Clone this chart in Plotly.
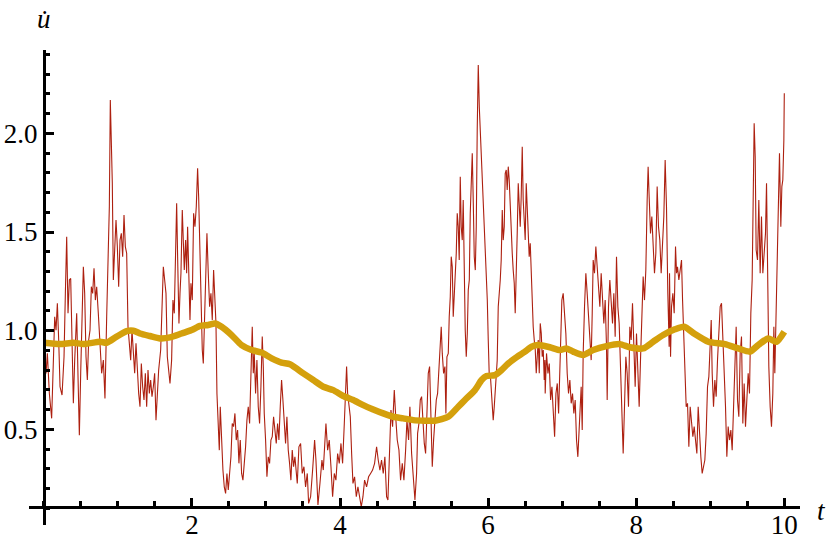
import plotly.graph_objects as go

# noisy sample path u'(t)
noisy_t = [
    0.000, 0.030, 0.048, 0.075, 0.106, 0.129, 0.147, 0.165, 0.183, 0.201,
    0.219, 0.246, 0.273, 0.291, 0.309, 0.327, 0.345, 0.363, 0.381, 0.399,
    0.417, 0.444, 0.462, 0.480, 0.498, 0.516, 0.534, 0.552, 0.570, 0.588,
    0.606, 0.624, 0.642, 0.660, 0.678, 0.696, 0.714, 0.736, 0.759, 0.781,
    0.804, 0.826, 0.849, 0.871, 0.885, 0.898, 0.912, 0.925, 0.939, 0.957,
    0.975, 0.993, 1.011, 1.029, 1.047, 1.065, 1.083, 1.101, 1.119, 1.137,
    1.155, 1.173, 1.191, 1.209, 1.227, 1.245, 1.263, 1.281, 1.299, 1.317,
    1.335, 1.353, 1.371, 1.389, 1.407, 1.425, 1.443, 1.461, 1.479, 1.497,
    1.515, 1.533, 1.551, 1.578, 1.596, 1.614, 1.632, 1.650, 1.668, 1.686,
    1.704,
    1.726, 1.744, 1.762, 1.780, 1.794, 1.807, 1.825, 1.839, 1.852, 1.870,
    1.884, 1.897, 1.915, 1.929, 1.942, 1.960, 1.974, 1.987, 2.005, 2.023,
    2.041, 2.059, 2.077, 2.091, 2.104, 2.122, 2.140, 2.154, 2.167, 2.185,
    2.203, 2.221, 2.239, 2.257, 2.275, 2.293, 2.311, 2.325, 2.338, 2.356,
    2.370, 2.383, 2.401, 2.419, 2.437, 2.455, 2.473, 2.491, 2.509, 2.527,
    2.545, 2.563, 2.581, 2.599, 2.617, 2.635, 2.653, 2.671, 2.689, 2.707,
    2.725, 2.743, 2.761, 2.779, 2.797, 2.815, 2.829, 2.842, 2.860, 2.878,
    2.896, 2.914, 2.932, 2.950, 2.964, 2.977, 2.995, 3.013, 3.031, 3.049,
    3.067, 3.085, 3.103, 3.121, 3.139, 3.157, 3.175, 3.193, 3.211, 3.229,
    3.247, 3.265, 3.283, 3.301, 3.319, 3.337, 3.355, 3.373, 3.391,
    3.396, 3.423, 3.445, 3.468, 3.490, 3.513, 3.535, 3.558, 3.576, 3.603,
    3.630, 3.657, 3.675, 3.702, 3.729, 3.756, 3.774, 3.792, 3.810, 3.833,
    3.855, 3.878, 3.900, 3.923, 3.945, 3.968, 3.990, 4.013, 4.035, 4.058,
    4.076, 4.089, 4.103, 4.121, 4.139, 4.157, 4.175, 4.197, 4.220, 4.242,
    4.265, 4.287, 4.310, 4.332, 4.359, 4.386, 4.413, 4.440, 4.467, 4.494,
    4.516, 4.539, 4.561, 4.584, 4.606, 4.629, 4.647, 4.665, 4.688, 4.710,
    4.733, 4.755, 4.773, 4.796, 4.818, 4.841, 4.863, 4.886, 4.904, 4.926,
    4.944, 4.967, 4.989, 5.012, 5.034,
    5.048, 5.066, 5.084, 5.102, 5.120, 5.138, 5.156, 5.174, 5.192, 5.210,
    5.228, 5.246, 5.264, 5.282, 5.300, 5.318, 5.336, 5.354, 5.367, 5.381,
    5.399, 5.417, 5.430, 5.444, 5.462, 5.475, 5.489, 5.502, 5.516, 5.529,
    5.543, 5.556, 5.570, 5.583, 5.597, 5.610, 5.624, 5.637, 5.651, 5.664,
    5.678, 5.691, 5.705, 5.719, 5.732, 5.746, 5.759, 5.773, 5.786, 5.800,
    5.813, 5.827, 5.840, 5.853, 5.867, 5.881, 5.894, 5.908, 5.921, 5.935,
    5.948, 5.962, 5.975, 5.989, 6.002, 6.016, 6.029, 6.043, 6.056, 6.069,
    6.083, 6.096, 6.110, 6.123, 6.137, 6.150, 6.164, 6.177, 6.191, 6.204,
    6.218, 6.231, 6.245, 6.258, 6.272, 6.285, 6.299, 6.312, 6.326, 6.339,
    6.353, 6.366, 6.380, 6.393, 6.407, 6.420, 6.434, 6.447, 6.461, 6.474,
    6.488, 6.501, 6.515, 6.528, 6.542, 6.555, 6.569, 6.582, 6.596, 6.609,
    6.623, 6.637, 6.650, 6.664, 6.677, 6.691, 6.704, 6.718, 6.731, 6.745,
    6.758, 6.767,
    6.771, 6.789, 6.808, 6.826, 6.844, 6.862, 6.880, 6.898, 6.916, 6.934,
    6.952, 6.969, 6.983, 6.996, 7.014, 7.032, 7.050, 7.068, 7.086, 7.104,
    7.122, 7.140, 7.158, 7.176, 7.194, 7.212, 7.226, 7.239, 7.257, 7.271,
    7.284, 7.302, 7.320, 7.338, 7.356, 7.374, 7.392, 7.406, 7.419, 7.437,
    7.455, 7.473, 7.491, 7.509, 7.527, 7.545, 7.563, 7.581, 7.599, 7.608,
    7.626, 7.644, 7.662, 7.680, 7.698, 7.716, 7.734, 7.752, 7.770, 7.788,
    7.806, 7.824, 7.842, 7.860, 7.878, 7.896, 7.914, 7.932, 7.950, 7.968,
    7.986, 8.004, 8.022, 8.040, 8.058, 8.076, 8.094, 8.112, 8.130, 8.148,
    8.161, 8.175, 8.193, 8.211, 8.229, 8.247, 8.265, 8.283, 8.301, 8.319,
    8.337, 8.355, 8.373, 8.391, 8.409, 8.427, 8.445,
    8.450, 8.464, 8.477, 8.495, 8.513, 8.531, 8.545, 8.558, 8.576, 8.594,
    8.612, 8.626, 8.639, 8.657, 8.675, 8.693, 8.711, 8.729, 8.747, 8.765,
    8.783, 8.801, 8.819, 8.837, 8.855, 8.873, 8.891, 8.909, 8.927, 8.945,
    8.963, 8.981, 8.999, 9.013, 9.026, 9.044, 9.062, 9.080, 9.098, 9.116,
    9.134, 9.152, 9.170, 9.188, 9.206, 9.224, 9.242, 9.260, 9.278, 9.296,
    9.314, 9.332, 9.350, 9.368, 9.386, 9.404, 9.422, 9.440, 9.458, 9.476,
    9.494, 9.512, 9.530, 9.548, 9.566, 9.580, 9.593, 9.607, 9.620, 9.638,
    9.656, 9.674, 9.692, 9.710, 9.728, 9.746, 9.760, 9.773, 9.791, 9.809,
    9.827, 9.845, 9.859, 9.872, 9.886, 9.899, 9.917, 9.935, 9.953, 9.967,
    9.980, 9.994, 10.000,
]

noisy_u = [
    0.944, 0.784, 0.885, 0.682, 0.556, 0.902, 1.071, 1.003, 1.139, 0.953,
    0.716, 0.674, 0.868, 1.189, 1.476, 1.088, 1.257, 1.265, 0.953, 0.632,
    0.851, 1.088, 0.767, 0.471, 0.784, 1.003, 1.324, 1.189, 0.868, 0.750,
    0.953, 1.003, 1.223, 1.189, 1.316, 1.155, 1.223, 1.088, 0.953, 0.784,
    0.851, 0.657, 1.071, 1.544, 1.628, 2.169, 1.966, 1.747, 1.257, 1.392,
    1.561, 1.426, 1.223, 1.459, 1.493, 1.375, 1.586, 1.426, 1.392, 1.020,
    0.919, 0.851, 1.003, 0.868, 0.784, 0.936, 0.801, 0.682, 0.615, 0.834,
    0.716, 0.649, 0.784, 0.615, 0.801, 0.682, 0.750, 0.666, 0.716, 0.784,
    0.547, 0.682, 0.801, 0.902, 1.155, 1.324, 1.257, 1.189, 0.868, 0.801,
    0.733,
    0.851, 1.155, 1.088, 1.392, 1.645, 1.375, 1.037, 1.189, 1.291, 1.611,
    1.459, 1.307, 1.459, 1.291, 1.527, 1.189, 1.054, 1.240, 1.155, 1.595,
    1.527, 1.628, 1.823, 1.679, 1.476, 1.122, 0.902, 0.834, 1.037, 1.223,
    1.493, 1.291, 1.122, 1.189, 1.054, 1.307, 1.189, 1.037, 0.682, 0.530,
    0.395, 0.615, 0.446, 0.294, 0.209, 0.176, 0.277, 0.193, 0.277, 0.361,
    0.530, 0.514, 0.581, 0.446, 0.497, 0.328, 0.446, 0.277, 0.243, 0.311,
    0.412, 0.547, 0.615, 0.530, 0.750, 1.020, 0.784, 0.885, 0.682, 0.851,
    0.615, 0.530, 0.716, 0.970, 0.818, 0.581, 0.446, 0.260, 0.361, 0.328,
    0.446, 0.463, 0.564, 0.497, 0.429, 0.530, 0.446, 0.615, 0.750, 0.649,
    0.497, 0.429, 0.564, 0.395, 0.328, 0.243, 0.395, 0.311, 0.361,
    0.345, 0.226, 0.412, 0.429, 0.277, 0.311, 0.209, 0.277, 0.125, 0.159,
    0.294, 0.446, 0.345, 0.117, 0.226, 0.345, 0.294, 0.446, 0.530, 0.395,
    0.446, 0.311, 0.159, 0.277, 0.243, 0.378, 0.328, 0.429, 0.328, 0.530,
    0.716, 0.818, 0.682, 0.632, 0.564, 0.378, 0.226, 0.260, 0.159, 0.209,
    0.159, 0.108, 0.159, 0.243, 0.209, 0.260, 0.277, 0.294, 0.328, 0.412,
    0.345, 0.294, 0.345, 0.277, 0.361, 0.159, 0.142, 0.378, 0.598, 0.514,
    0.699, 0.547, 0.446, 0.395, 0.243, 0.328, 0.243, 0.395, 0.547, 0.446,
    0.615, 0.378, 0.243, 0.142, 0.277,
    0.480, 0.530, 0.649, 0.666, 0.530, 0.429, 0.378, 0.547, 0.784, 0.818,
    0.615, 0.311, 0.446, 0.530, 0.649, 0.682, 0.818, 0.953, 1.020, 0.885,
    0.784, 0.818, 0.581, 0.868, 0.885, 1.071, 1.172, 1.375, 1.324, 1.071,
    1.189, 1.257, 1.392, 1.595, 1.527, 1.358, 1.780, 1.527, 1.459, 1.662,
    1.291, 1.003, 0.868, 0.986, 1.206, 1.257, 1.595, 1.747, 1.899, 1.645,
    1.375, 1.307, 1.527, 2.017, 2.346, 2.135, 2.017, 1.932, 1.831, 1.662,
    1.561, 1.426, 1.257, 1.155, 0.953, 0.767, 0.784, 0.682, 0.649, 0.547,
    0.615, 0.682, 0.784, 0.851, 1.122, 1.172, 1.257, 1.358, 1.611, 1.459,
    1.527, 1.797, 1.814, 1.713, 1.831, 1.764, 1.595, 1.459, 1.392, 1.307,
    1.240, 1.088, 1.392, 1.493, 1.747, 1.628, 1.527, 1.679, 1.932, 1.662,
    1.544, 1.459, 1.747, 1.611, 1.493, 1.375, 1.443, 1.324, 1.105, 1.020,
    0.953, 0.902, 0.784, 0.868, 0.953, 0.784, 1.037, 0.986, 0.868, 0.902,
    0.750, 0.851,
    0.682, 0.885, 0.784, 0.834, 0.649, 0.716, 0.615, 0.463, 0.682, 0.733,
    0.581, 0.818, 1.003, 1.155, 1.189, 1.088, 0.986, 0.784, 0.682, 0.750,
    0.632, 0.682, 0.581, 0.649, 0.446, 0.361, 0.480, 0.514, 0.716, 0.497,
    0.885, 1.122, 1.291, 1.189, 1.054, 0.986, 0.851, 1.088, 1.358, 1.291,
    1.426, 1.324, 1.189, 1.122, 1.291, 1.139, 1.037, 1.155, 0.919, 0.649,
    1.122, 1.257, 1.155, 1.037, 1.189, 0.970, 1.375, 1.122, 1.037, 0.784,
    0.581, 0.378, 0.615, 0.868, 0.784, 0.615, 1.020, 0.953, 1.139, 0.851,
    0.716, 0.986, 0.784, 0.615, 0.851, 1.054, 1.274, 1.155, 1.307, 1.662,
    1.831, 1.679, 1.493, 1.578, 1.459, 1.291, 1.392, 1.730, 1.527, 1.459,
    1.291, 1.459, 1.578, 1.865, 1.628, 1.189, 0.919,
    1.291, 0.868, 1.122, 1.189, 1.088, 1.426, 1.291, 1.324, 1.257, 1.324,
    1.358, 1.155, 0.986, 0.750, 0.615, 0.632, 0.412, 0.615, 0.530, 0.463,
    0.514, 0.429, 0.378, 0.615, 0.463, 0.361, 0.277, 0.311, 0.345, 0.480,
    0.716, 0.767, 0.919, 1.054, 0.784, 0.615, 0.750, 0.666, 0.851, 1.003,
    1.122, 1.139, 0.986, 0.784, 0.615, 0.361, 0.514, 0.446, 0.497, 0.395,
    0.581, 0.784, 1.020, 0.649, 0.564, 0.885, 0.970, 0.530, 0.733, 0.514,
    0.649, 0.784, 0.682, 1.088, 1.257, 1.713, 2.051, 1.882, 1.409, 1.358,
    1.662, 1.291, 1.578, 1.291, 1.426, 1.493, 1.747, 1.324, 0.818, 0.615,
    0.514, 0.682, 1.020, 0.784, 1.003, 1.358, 1.628, 1.899, 1.527, 1.730,
    1.764, 1.966, 2.203,
]

# smooth running mean
avg_t = [
    0.000, 0.219, 0.399, 0.534, 0.759, 0.849, 0.984, 1.119, 1.209, 1.299,
    1.434, 1.569, 1.704, 1.861, 1.996, 2.109, 2.221, 2.311, 2.401, 2.536,
    2.671, 2.806, 2.941, 3.077, 3.211, 3.324, 3.504, 3.639, 3.774, 3.909,
    4.044, 4.179, 4.314, 4.449, 4.584, 4.719, 4.854, 4.989, 5.147, 5.282,
    5.462, 5.597, 5.687, 5.822, 5.912, 5.979, 6.092, 6.182, 6.272, 6.362,
    6.497, 6.587, 6.677, 6.834, 6.969, 7.059, 7.149, 7.284, 7.419, 7.599,
    7.779, 7.914, 8.094, 8.229, 8.364, 8.522, 8.648, 8.792, 8.972, 9.197,
    9.377, 9.535, 9.647, 9.782, 9.895, 10.000,
]
avg_u = [
    0.939, 0.932, 0.939, 0.932, 0.944, 0.939, 0.970, 0.998, 1.000, 0.986,
    0.973, 0.961, 0.966, 0.986, 1.003, 1.024, 1.029, 1.037, 1.020, 0.978,
    0.927, 0.902, 0.889, 0.860, 0.838, 0.830, 0.784, 0.750, 0.716, 0.699,
    0.669, 0.649, 0.623, 0.601, 0.581, 0.564, 0.556, 0.547, 0.544, 0.544,
    0.564, 0.615, 0.649, 0.699, 0.750, 0.770, 0.775, 0.801, 0.834, 0.860,
    0.894, 0.919, 0.927, 0.916, 0.902, 0.910, 0.894, 0.877, 0.902, 0.922,
    0.932, 0.916, 0.910, 0.944, 0.978, 1.007, 1.020, 0.983, 0.944, 0.932,
    0.910, 0.894, 0.927, 0.961, 0.944, 0.995,
]

x_ticks = [2, 4, 6, 8, 10]
y_ticks = [0.5, 1.0, 1.5, 2.0]

X_RANGE = [-0.2, 10.212]
Y_RANGE = [0.0157, 2.422]
X_AXIS_AT = 0.107   # u value where the t-axis crosses

SERIF = "Liberation Serif"
FONT_SIZE = 27

fig = go.Figure()

fig.add_trace(go.Scatter(
    x=noisy_t, y=noisy_u, mode='lines',
    line=dict(color='#ad2010', width=1.1),
    hoverinfo='skip', showlegend=False,
))

fig.add_trace(go.Scatter(
    x=avg_t, y=avg_u, mode='lines',
    line=dict(color='#d4a00c', width=6.5, shape='spline', smoothing=0.6),
    hoverinfo='skip', showlegend=False,
))

tick_style = dict(ticks='inside', ticklen=8, tickwidth=2.5, tickcolor='black')
minor_style = dict(ticks='inside', ticklen=4.5, tickwidth=2.5, tickcolor='black',
                   showgrid=False)
label_font = dict(family=SERIF, size=FONT_SIZE, color='black')

fig.update_layout(
    template='none',
    width=830, height=549,
    margin=dict(l=29, r=30, t=50, b=24),
    paper_bgcolor='white', plot_bgcolor='white',
    font=label_font,
    xaxis=dict(
        range=X_RANGE, showgrid=False, zeroline=False, automargin=False,
        showline=True, linecolor='black', linewidth=3,
        tickmode='array', tickvals=x_ticks, tickfont=label_font,
        anchor='free',
        position=(X_AXIS_AT - Y_RANGE[0]) / (Y_RANGE[1] - Y_RANGE[0]),
        ticklabelstandoff=-7,
        minor=dict(dtick=0.5, tick0=0, **minor_style),
        **tick_style,
    ),
    yaxis=dict(
        range=Y_RANGE, showgrid=False, zeroline=False, automargin=False,
        showline=True, linecolor='black', linewidth=3,
        tickmode='array', tickvals=y_ticks, tickformat='.1f', tickfont=label_font,
        anchor='free',
        position=(0 - X_RANGE[0]) / (X_RANGE[1] - X_RANGE[0]),
        ticklabelstandoff=0,
        minor=dict(dtick=0.1, tick0=0, **minor_style),
        **tick_style,
    ),
    annotations=[
        dict(text="<i>u̇</i>", x=0, y=1.066, xref='x', yref='paper',
             showarrow=False, xanchor='center', yanchor='middle',
             font=label_font),
        dict(text="<i>t</i>", x=1.0285, y=0.03, xref='paper', yref='paper',
             showarrow=False, xanchor='center', yanchor='middle',
             font=label_font),
    ],
)

# drop the default 8px page margin so the figure sits at the window origin
fig.write_html("out.html", config={'displayModeBar': False},
               post_script="document.body.style.margin='0';")
